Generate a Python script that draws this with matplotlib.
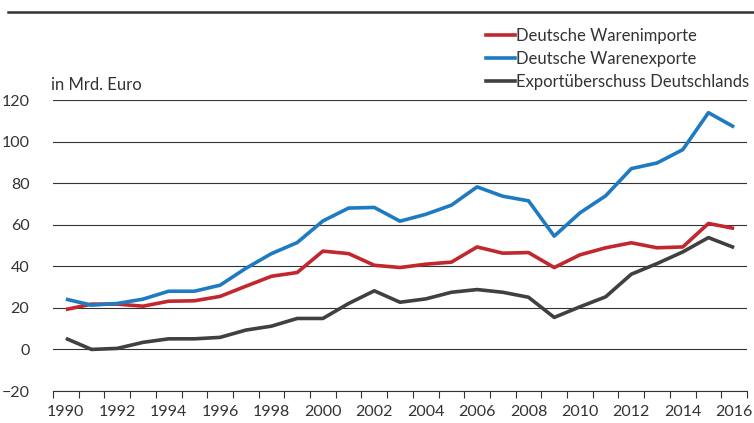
import numpy as np
import matplotlib.pyplot as plt
from matplotlib.lines import Line2D

plt.rcParams['font.family'] = ['Lato', 'DejaVu Sans']

# Daten (in Mrd. Euro)
jahre = np.arange(1990, 2017)
importe = [19.2, 21.8, 21.8, 20.8, 23.2, 23.4, 25.5, 30.4, 35.2, 37.0,
           47.3, 46.1, 40.5, 39.4, 41.0, 42.0, 49.3, 46.3, 46.6, 39.4,
           45.5, 48.9, 51.3, 48.9, 49.3, 60.6, 58.2]
exporte = [24.2, 21.3, 22.1, 24.2, 28.0, 28.0, 30.9, 39.0, 46.1, 51.4,
           61.8, 68.0, 68.3, 61.7, 65.0, 69.4, 78.2, 73.7, 71.5, 54.5,
           65.7, 73.9, 87.0, 89.7, 96.1, 113.9, 107.0]
ueberschuss = [5.3, 0.0, 0.5, 3.4, 5.1, 5.1, 5.8, 9.3, 11.2, 14.9,
               14.9, 22.1, 28.2, 22.7, 24.3, 27.5, 28.8, 27.5, 25.1, 15.4,
               20.5, 25.3, 36.2, 41.3, 46.9, 53.8, 49.0]
labels = ['Deutsche Warenimporte', 'Deutsche Warenexporte',
          'Exportüberschuss Deutschlands']
farben = ['#c1272d', '#1f7bc1', '#404040']

fig = plt.figure(figsize=(7.54, 4.23), dpi=100)
ax = fig.add_axes([53/754, 32/423, 694/754, 291/423])

for werte, farbe, lab in zip([importe, exporte, ueberschuss], farben, labels):
    ax.plot(jahre, werte, color=farbe, lw=2.6, label=lab, solid_capstyle='butt',
            zorder=3)

ax.set_xlim(1989.5, 2016.5)
ax.set_ylim(-20, 120)
ax.set_yticks(np.arange(-20, 121, 20))
ax.yaxis.grid(True, color='#333333', lw=0.8)
ax.set_axisbelow(True)

# Ticks an Kategoriegrenzen, Beschriftung in der Mitte
ax.set_xticks(np.arange(1989.5, 2017, 1))
ax.set_xticklabels([])
ax.set_xticks(np.arange(1990, 2017, 2), minor=True)
ax.set_xticklabels([str(j) for j in range(1990, 2017, 2)], minor=True)
ax.tick_params(axis='x', which='major', length=5, width=0.8, color='#333333')
ax.tick_params(axis='x', which='minor', length=0, pad=10, labelsize=11.5,
               labelcolor='#333333')
ax.tick_params(axis='y', length=0, pad=17, labelsize=11.5, labelcolor='#333333')

for s in ['left', 'right', 'top']:
    ax.spines[s].set_visible(False)
ax.spines['bottom'].set_color('#333333')
ax.spines['bottom'].set_linewidth(0.8)

fig.text(51/754, 1 - 90/423, 'in Mrd. Euro', fontsize=12, color='#333333',
         va='baseline', ha='left')

# Linie oben
fig.add_artist(Line2D([8/754, 1], [1 - 12.5/423, 1 - 12.5/423],
                      color='#333333', lw=1.8))

handles = [Line2D([], [], color=f, lw=2.6) for f in farben]
fig.legend(handles, labels, loc='upper right',
           bbox_to_anchor=(749/754, 1 - 28/423), frameon=False, fontsize=12,
           handlelength=1.7, handletextpad=0.08, labelspacing=0.42,
           borderaxespad=0, borderpad=0, labelcolor='#333333')

plt.savefig('out.png', dpi=100)
